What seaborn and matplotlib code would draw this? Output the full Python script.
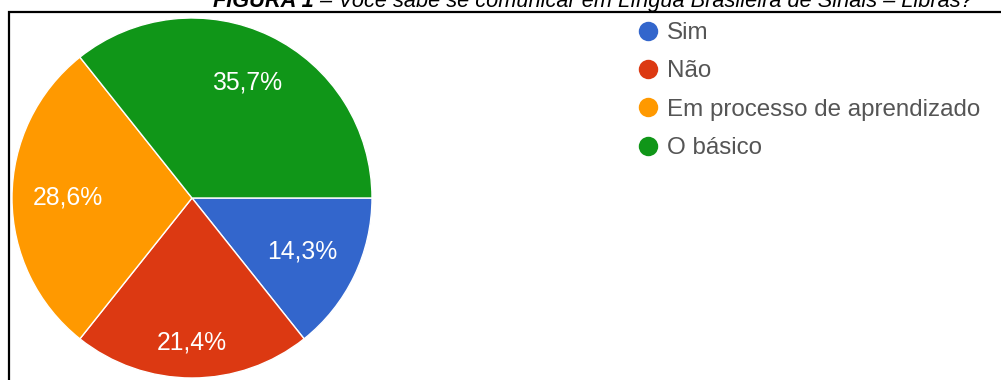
import matplotlib
matplotlib.use("Agg")
import matplotlib.pyplot as plt
import numpy as np
import seaborn as sns
from matplotlib.lines import Line2D
from matplotlib.patches import Rectangle

# Survey answers and their shares (%)
categories = ["Sim", "Não", "Em processo de aprendizado", "O básico"]
shares = [14.3, 21.4, 28.6, 35.7]
slice_labels = ["14,3%", "21,4%", "28,6%", "35,7%"]
title_bold = "FIGURA 1"
title_rest = " – Você sabe se comunicar em Língua Brasileira de Sinais – Libras?"

sns.set_theme(style="white")
plt.rcParams["font.family"] = ["Liberation Sans", "DejaVu Sans"]

palette = sns.color_palette(["#3366cc", "#dc3912", "#ff9900", "#109618"])
# radial position of each percentage label, as a fraction of the radius
label_radius = [0.68, 0.80, 0.69, 0.71]

W, H = 1001, 380
fig = plt.figure(figsize=(W / 100, H / 100), dpi=100)
fig.patch.set_facecolor("white")

# pie axes: circle centred near (192, 198) px, radius ~180 px
ax = fig.add_axes([12 / W, 1 - 378 / H, 360 / W, 360 / H])
wedges, _ = ax.pie(
    shares,
    colors=palette,
    startangle=0,
    counterclock=False,
    radius=1.0,
    wedgeprops=dict(edgecolor="white", linewidth=1.0),
)
ax.set_xlim(-1, 1)
ax.set_ylim(-1, 1)
ax.set_aspect("equal")
ax.axis("off")

for w, lab, rf in zip(wedges, slice_labels, label_radius):
    mid = np.deg2rad((w.theta1 + w.theta2) / 2)
    ax.text(rf * np.cos(mid), rf * np.sin(mid), lab, ha="center", va="center",
            color="white", fontsize=17.8)

# legend with round markers
handles = [Line2D([], [], marker="o", linestyle="", markersize=14, color=c,
                  markeredgewidth=0) for c in palette]
leg = fig.legend(handles, categories, loc="upper left",
                 bbox_to_anchor=(638 / W, 1 - 22 / H),
                 frameon=False, fontsize=17.4, labelspacing=0.68,
                 handlelength=0.85, handletextpad=0.35, borderpad=0,
                 borderaxespad=0)
for t in leg.get_texts():
    t.set_color("#555555")

# frame around the chart (top and left edges visible)
fig.add_artist(Rectangle((9 / W, -0.2), 1.2, 1.2 - 12 / H,
                         transform=fig.transFigure, fill=False,
                         edgecolor="black", linewidth=1.6))

# caption sitting just above the frame
t1 = fig.text(213 / W, 1 - 7 / H, title_bold, ha="left", va="baseline",
              fontsize=15.7, fontstyle="italic", fontweight="bold", color="black")
ax.annotate(title_rest, xy=(1, 0), xycoords=t1, ha="left", va="bottom",
            fontsize=15.7, fontstyle="italic", color="black",
            annotation_clip=False)

fig.savefig("out.png", dpi=100)
